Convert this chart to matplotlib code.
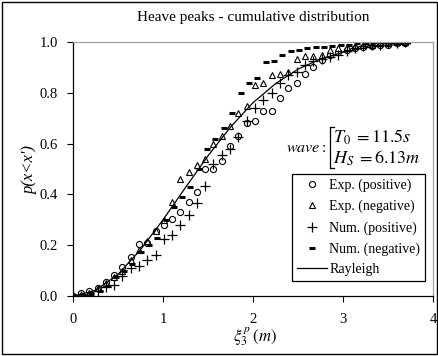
import numpy as np
import matplotlib
matplotlib.use('Agg')
import matplotlib.pyplot as plt
from matplotlib.lines import Line2D
from matplotlib.patches import Rectangle

# ==========================================
# Data
# ==========================================
x_peaks = [0.00, 0.09, 0.18, 0.28, 0.37, 0.46, 0.54, 0.64, 0.73, 0.82,
           0.92, 1.01, 1.10, 1.19, 1.29, 1.38, 1.47, 1.56, 1.66, 1.74,
           1.83, 1.93, 2.02, 2.11, 2.21, 2.30, 2.39, 2.49, 2.58, 2.67,
           2.77, 2.86, 2.94, 3.04, 3.13, 3.22, 3.32, 3.41, 3.50, 3.60, 3.69]

exp_pos = [0.00, 0.01, 0.02, 0.03, 0.055, 0.083, 0.115, 0.155, 0.205, 0.21,
           0.255, 0.28, 0.305, 0.33, 0.37, 0.41, 0.50, 0.50, 0.53, 0.59,
           0.63, 0.68, 0.69, 0.73, 0.73, 0.78, 0.82, 0.84, 0.875, 0.90,
           0.93, 0.95, 0.96, 0.97, 0.975, 0.98, 0.985, 0.99, 0.99, 0.995, 0.995]

exp_neg = [0.00, 0.005, 0.01, 0.03, 0.05, 0.075, 0.10, 0.14, 0.18, 0.215,
           0.255, 0.30, 0.37, 0.46, 0.49, 0.515, 0.54, 0.60, 0.63, 0.67,
           0.72, 0.75, 0.83, 0.84, 0.87, 0.875, 0.88, 0.935, 0.945, 0.945,
           0.95, 0.97, 0.975, 0.98, 0.985, 0.99, 0.99, 0.995, 0.995, 1.00, 1.00]

num_pos = [0.00, 0.00, 0.005, 0.02, 0.035, 0.045, 0.08, 0.11, 0.12, 0.14,
           0.16, 0.225, 0.24, 0.28, 0.32, 0.365, 0.435, 0.52, 0.555, 0.58,
           0.625, 0.69, 0.74, 0.77, 0.80, 0.84, 0.87, 0.88, 0.91, 0.925,
           0.935, 0.94, 0.95, 0.965, 0.975, 0.985, 0.99, 0.99, 0.995, 0.995, 1.00]

x_num_neg = [0.02, 0.11, 0.20, 0.30, 0.39, 0.48, 0.57, 0.66, 0.76, 0.84,
             0.93, 1.03, 1.12, 1.21, 1.30, 1.40, 1.49, 1.58, 1.68, 1.77,
             1.87, 1.96, 2.04, 2.14, 2.23, 2.32, 2.42, 2.51, 2.60, 2.70,
             2.79, 2.88, 2.98, 3.07, 3.16, 3.26, 3.34, 3.43, 3.53, 3.62, 3.71]
num_neg = [0.00, 0.005, 0.01, 0.02, 0.04, 0.075, 0.10, 0.125, 0.175, 0.20,
           0.23, 0.30, 0.35, 0.39, 0.43, 0.50, 0.58, 0.62, 0.66, 0.72,
           0.80, 0.84, 0.86, 0.92, 0.925, 0.95, 0.965, 0.97, 0.975, 0.98,
           0.98, 0.985, 0.99, 0.99, 0.995, 0.995, 1.00, 1.00, 1.00, 1.00, 1.00]

x_rayleigh = [0.0, 0.25, 0.5, 0.75, 1.0, 1.25, 1.5, 1.75, 2.0, 2.25,
              2.5, 2.75, 3.0, 3.25, 3.5, 3.75]
p_rayleigh = [0.0, 0.022, 0.085, 0.182, 0.30, 0.427, 0.552, 0.665, 0.761, 0.836,
              0.893, 0.933, 0.960, 0.977, 0.987, 0.993]

# ==========================================
# Style
# ==========================================
plt.rcParams.update({
    'font.family': ['Liberation Serif', 'DejaVu Serif'],
    'mathtext.fontset': 'stix',
    'font.size': 10,
})

W, H = 439, 356
fig = plt.figure(figsize=(W / 100, H / 100), dpi=100)


def px(x, y):
    """pixel position (from top-left) -> figure fraction"""
    return x / W, 1 - y / H


ax = fig.add_axes([73 / W, 60 / H, 360 / W, 254 / H])

ax.plot(x_peaks, exp_pos, linestyle='none', marker='o', markersize=4.4,
        markerfacecolor='white', markeredgecolor='black', markeredgewidth=0.8,
        label='Exp. (positive)')
ax.plot(x_peaks, exp_neg, linestyle='none', marker='^', markersize=5,
        markerfacecolor='white', markeredgecolor='black', markeredgewidth=0.8,
        label='Exp. (negative)')
ax.plot(x_peaks, num_pos, linestyle='none', marker='+', markersize=7,
        color='black', markeredgewidth=0.9, label='Num. (positive)')
ax.plot(x_num_neg, num_neg, linestyle='none', marker='_', markersize=5,
        color='black', markeredgewidth=2.2, label='Num. (negative)')
ax.plot(x_rayleigh, p_rayleigh, color='black', linewidth=0.9, label='Rayleigh')

ax.set_xlim(0, 4)
ax.set_ylim(0, 1)
ax.set_xticks([0, 1, 2, 3, 4])
ax.set_yticks([0, 0.2, 0.4, 0.6, 0.8, 1.0])
ax.set_yticklabels([f'{v:.1f}' for v in [0, 0.2, 0.4, 0.6, 0.8, 1.0]])
ax.tick_params(axis='both', direction='out', length=4, width=0.8,
               labelsize=10.5, color='black')
ax.tick_params(axis='y', pad=7)
ax.tick_params(axis='x', pad=8)

for s in ['left', 'bottom']:
    ax.spines[s].set_color('black')
    ax.spines[s].set_linewidth(0.9)
for s in ['top', 'right']:
    ax.spines[s].set_color('#a0a0a0')
    ax.spines[s].set_linewidth(0.9)

# Title and axis labels
fig.text(*px(253, 17), 'Heave peaks - cumulative distribution',
         ha='center', va='center', fontsize=11)
fig.text(*px(30, 170), "p(x<x')", ha='center', va='center',
         rotation=90, fontsize=12, fontstyle='italic')
fig.text(*px(255, 337), r'$\xi_3^{\,p}\,(m)$', ha='center', va='center',
         fontsize=12)

# Wave parameters annotation
fig.text(*px(326, 148), r'$wave:$', ha='right', va='center', fontsize=11.5)
fig.add_artist(Line2D([330 / W, 330 / W], [1 - 127 / H, 1 - 168 / H],
                      color='black', linewidth=0.9))
fig.add_artist(Line2D([330 / W, 334 / W], [1 - 127 / H, 1 - 127 / H],
                      color='black', linewidth=0.9))
fig.add_artist(Line2D([330 / W, 334 / W], [1 - 168 / H, 1 - 168 / H],
                      color='black', linewidth=0.9))
fig.text(*px(333, 137), r'$T_0\;=11.5s$', ha='left', va='center', fontsize=13)
fig.text(*px(333, 158), r'$H_S\;=6.13m$', ha='left', va='center', fontsize=13)

# Legend
leg = ax.legend(loc='upper left', bbox_to_anchor=px(292, 174),
                bbox_transform=fig.transFigure, frameon=True, fancybox=False,
                edgecolor='black', fontsize=10, handlelength=2.2,
                handletextpad=0.15, borderpad=0.35, labelspacing=0.55,
                borderaxespad=0, framealpha=1)
leg.get_frame().set_linewidth(0.9)

# Outer border
fig.add_artist(Rectangle((2 / W, 2 / H), (W - 4) / W, (H - 4) / H,
                         transform=fig.transFigure, fill=False,
                         edgecolor='black', linewidth=1.0))

fig.savefig('out.png', dpi=100)
plt.close(fig)
